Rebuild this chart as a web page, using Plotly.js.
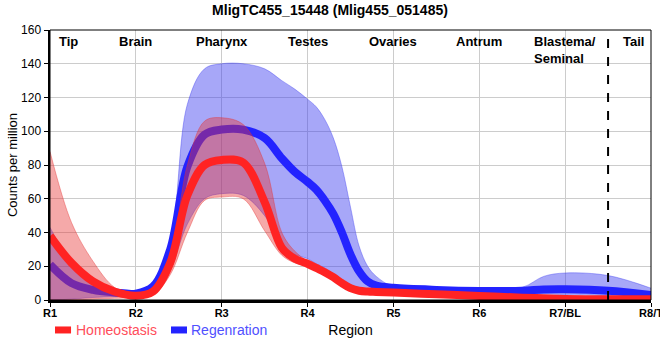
<!DOCTYPE html>
<html>
<head>
<meta charset="utf-8">
<script src="https://cdn.plot.ly/plotly-3.0.1.min.js"></script>
<style>html,body{margin:0;padding:0;background:#fff;}#chart{width:660px;height:360px;}</style>
</head>
<body>
<div id="chart"></div>
<script>
// Region positions (numeric index) and tick labels
const xPos = [0, 0.25, 0.5, 0.75, 1, 1.2, 1.4, 1.6, 1.8, 2, 2.25, 2.5, 2.7, 2.85, 3, 3.1, 3.2, 3.3, 3.4, 3.5, 3.6, 3.7, 3.8, 4, 4.5, 5, 5.5, 5.75, 6, 6.5, 7];
const tickVals = [0, 1, 2, 3, 4, 5, 6, 7];
const tickText = ["R1", "R2", "R3", "R4", "R5", "R6", "R7/BL", "R8/T"];
const tissueLabels = ["Tip", "Brain", "Pharynx", "Testes", "Ovaries", "Antrum", "Blastema/<br>Seminal", "Tail"];
const seriesNames = ["Homeostasis", "Regenration"];

// Homeostasis
const homMean  = [38, 22, 11, 5, 2.5, 5, 22, 62, 80, 83, 81.5, 58, 31, 24.5, 21.5, 19, 16.5, 13.5, 10, 7, 5.5, 5, 4.8, 4.4, 3.4, 2.4, 1.4, 1, 0.6, 0.5, 0.5];
const homUpper = [88, 46, 23, 7.5, 2.5, 6, 25, 80, 106, 108, 104, 81, 40, 29, 23, 20.5, 18, 15, 11, 8, 6.5, 5.8, 5.5, 5, 4, 3, 2.2, 2, 1.8, 1.5, 1.5];
const homLower = [0, 0, 0.5, 1, 1.5, 3, 15, 40, 59, 61, 60, 41, 26.5, 22, 20, 17.5, 15, 12, 8.5, 5.5, 4.5, 4.2, 4, 3.5, 2.5, 1.5, 0.5, -0.5, -1, -1, -1];

// Regeneration
const regMean  = [21, 10, 6, 4.5, 3.8, 8, 30, 79, 98, 101, 101, 96, 84, 76, 70, 65.5, 59, 51, 40, 27, 17, 11, 8.5, 7.2, 6, 5.4, 5.5, 6.2, 6.3, 5.5, 3];
const regUpper = [43, 22, 10, 6, 5, 9, 33, 116, 137, 140, 140, 137, 130, 125, 119, 114.5, 107, 96, 79, 55, 32, 20, 14, 8, 7, 6.5, 7.5, 14, 16, 14.5, 7];
const regLower = [0, 0.5, 1.5, 2, 2.5, 4, 18, 45, 60, 63, 62, 50, 33, 27, 24.5, 21.5, 19, 15.5, 12, 9, 7, 6, 5.5, 5, 4.5, 4, 3.8, 3.5, 3.2, 2.5, 1];

const dashX = 6.5;

const sans = '"Liberation Sans", Arial, sans-serif';
const homColor = 'rgb(255,35,35)';
const regColor = 'rgb(35,35,255)';

const traces = [
  {x: xPos, y: regLower, mode: 'lines', line: {shape: 'spline', width: 0.8, color: 'rgba(60,60,240,0.5)'}, showlegend: false, hoverinfo: 'skip'},
  {x: xPos, y: regUpper, mode: 'lines', fill: 'tonexty', fillcolor: 'rgba(60,60,240,0.45)', line: {shape: 'spline', width: 0.8, color: 'rgba(60,60,240,0.5)'}, showlegend: false, hoverinfo: 'skip'},
  {x: xPos, y: regMean, mode: 'lines', name: seriesNames[1], line: {shape: 'spline', width: 8, color: regColor}, showlegend: false},
  {x: xPos, y: homLower, mode: 'lines', line: {shape: 'spline', width: 0.8, color: 'rgba(230,50,50,0.5)'}, showlegend: false, hoverinfo: 'skip'},
  {x: xPos, y: homUpper, mode: 'lines', fill: 'tonexty', fillcolor: 'rgba(230,50,50,0.42)', line: {shape: 'spline', width: 0.8, color: 'rgba(230,50,50,0.5)'}, showlegend: false, hoverinfo: 'skip'},
  {x: xPos, y: homMean, mode: 'lines', name: seriesNames[0], line: {shape: 'spline', width: 8, color: homColor}, showlegend: false}
];

const annotations = tissueLabels.map((t, i) => {
  let a = {x: tickVals[i], y: 1, xref: 'x', yref: 'paper', yanchor: 'top', yshift: -2, text: '<b>' + t + '</b>', showarrow: false, font: {family: sans, size: 13, color: '#000'}, align: 'left'};
  if (i === 0) { a.xanchor = 'left'; a.xshift = 7; }
  else if (i === tissueLabels.length - 1) { a.xanchor = 'right'; a.xshift = -5; }
  else { a.xanchor = 'center'; }
  return a;
});

// custom legend (short swatches like the reference)
const legY = -0.111;
const legItems = [
  {name: seriesNames[0], color: homColor, text: '#ff4d5a', x0: 0.0083, x1: 0.035, tx: 0.0399},
  {name: seriesNames[1], color: regColor, text: '#5050ff', x0: 0.2013, x1: 0.2280, tx: 0.2313}
];
const legShapes = legItems.map(it => ({type: 'line', xref: 'paper', yref: 'paper', x0: it.x0, x1: it.x1, y0: legY, y1: legY, line: {color: it.color, width: 7}}));
legItems.forEach(it => annotations.push({x: it.tx, y: legY, xref: 'paper', yref: 'paper', xanchor: 'left', yanchor: 'middle', text: it.name, showarrow: false, font: {family: sans, size: 14, color: it.text}}));

const layout = {
  width: 660, height: 360,
  margin: {l: 50, r: 9, t: 30, b: 60},
  paper_bgcolor: '#fff', plot_bgcolor: '#fff',
  title: {text: '<b>MligTC455_15448 (Mlig455_051485)</b>', x: 0.5, xanchor: 'center', y: 0.985, yanchor: 'top', font: {family: sans, size: 14, color: '#000'}},
  xaxis: {
    range: [0, 7], tickvals: tickVals, ticktext: tickText,
    tickfont: {family: sans, size: 11, color: '#000', weight: 'bold'},
    ticks: 'outside', ticklen: 4, tickcolor: '#000', tickwidth: 1,
    ticklabeloverflow: 'allow', ticklabelstandoff: -3,
    showgrid: true, gridcolor: '#cccccc', gridwidth: 1,
    showline: true, linecolor: '#000', linewidth: 3,
    zeroline: false, fixedrange: true, automargin: false,
    title: {text: 'Region', font: {family: sans, size: 14, color: '#000'}, standoff: 7}
  },
  yaxis: {
    range: [0, 160], dtick: 20,
    tickfont: {family: sans, size: 12, color: '#000'},
    ticks: 'outside', ticklen: 4, tickcolor: '#000', tickwidth: 1,
    showgrid: true, gridcolor: '#cccccc', gridwidth: 1,
    showline: true, linecolor: '#000', linewidth: 2.5,
    zeroline: false, fixedrange: true, automargin: false,
    title: {text: 'Counts per million', font: {family: sans, size: 13, color: '#000'}, standoff: 1}
  },
  shapes: [
    {type: 'rect', xref: 'paper', yref: 'paper', x0: 0, x1: 1, y0: 0, y1: 1, line: {color: '#000', width: 1}},
    {type: 'line', xref: 'x', yref: 'paper', x0: dashX, x1: dashX, y0: 0, y1: 1, line: {color: '#000', width: 2, dash: 'dash'}}
  ].concat(legShapes),
  annotations: annotations,
  showlegend: false
};

Plotly.newPlot('chart', traces, layout, {displayModeBar: false, staticPlot: true});
</script>
</body>
</html>
